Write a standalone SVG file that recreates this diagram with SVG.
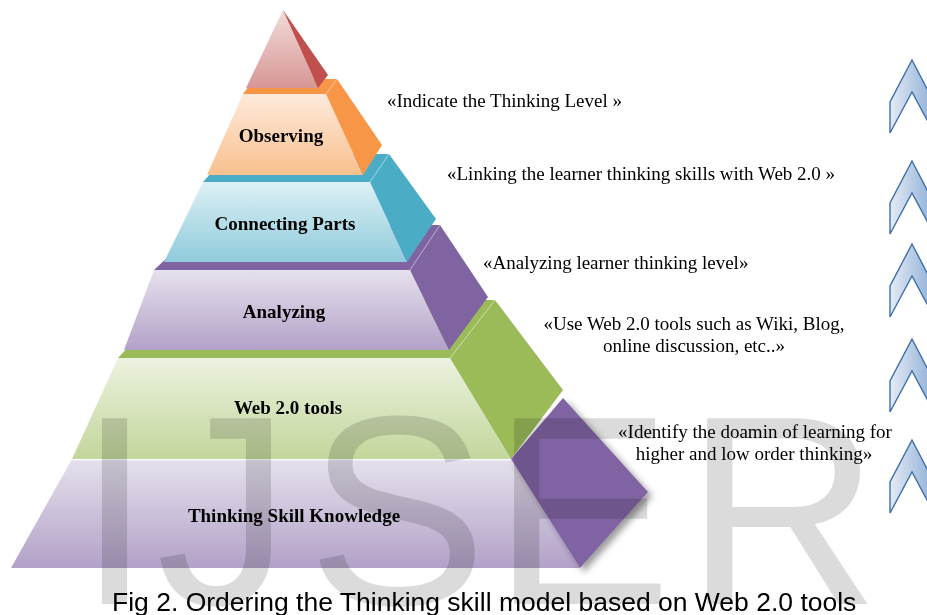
<svg xmlns="http://www.w3.org/2000/svg" xmlns:xlink="http://www.w3.org/1999/xlink" width="927" height="615" viewBox="0 0 927 615">
  <defs>
    <linearGradient id="gPink" x1="0" y1="0" x2="0" y2="1">
      <stop offset="0" stop-color="#f2dcdb"/>
      <stop offset="1" stop-color="#d79694"/>
    </linearGradient>
    <linearGradient id="gOrange" x1="0" y1="0" x2="0" y2="1">
      <stop offset="0" stop-color="#fdeadb"/>
      <stop offset="1" stop-color="#f9c08e"/>
    </linearGradient>
    <linearGradient id="gTeal" x1="0" y1="0" x2="0" y2="1">
      <stop offset="0" stop-color="#dcf0f5"/>
      <stop offset="1" stop-color="#90cbdb"/>
    </linearGradient>
    <linearGradient id="gPurple" x1="0" y1="0" x2="0" y2="1">
      <stop offset="0" stop-color="#e6e1ed"/>
      <stop offset="1" stop-color="#b2a1c8"/>
    </linearGradient>
    <linearGradient id="gGreen" x1="0" y1="0" x2="0" y2="1">
      <stop offset="0" stop-color="#ecf2e0"/>
      <stop offset="1" stop-color="#c3d69b"/>
    </linearGradient>
    <linearGradient id="gChevron" x1="0" y1="0" x2="1" y2="0">
      <stop offset="0" stop-color="#e4ebf5"/>
      <stop offset="1" stop-color="#8eaed6"/>
    </linearGradient>
    <filter id="shadow" x="-20%" y="-20%" width="150%" height="150%">
      <feDropShadow dx="4" dy="4" stdDeviation="3.5" flood-color="#000" flood-opacity="0.4"/>
    </filter>
    <path id="chevron" d="M0,0 L22,42 L22,73 L0,32 L-22,73 L-22,42 Z"/>
  </defs>
  <style>
    .lbl { font-family: "Liberation Serif", "Times New Roman", serif; font-size: 19px; font-weight: bold; fill: #000; text-anchor: middle; }
    .note { font-family: "Liberation Serif", "Times New Roman", serif; font-size: 19px; fill: #000; }
    .mid { text-anchor: middle; }
    .edge { stroke: #ffffff; stroke-opacity: 0.35; stroke-width: 1; fill: none; }
    .chev { fill: url(#gChevron); stroke: #3f6fa8; stroke-width: 1.4; stroke-linejoin: miter; }
    .cap { font-family: "Liberation Sans", Arial, sans-serif; font-size: 26.5px; fill: #000; }
    .mark { font-family: "Liberation Sans", Arial, sans-serif; font-size: 270px; fill: #9a9a9a; fill-opacity: 0.36; mix-blend-mode: multiply; }
  </style>

  <rect width="927" height="615" fill="#ffffff"/>

  <!-- Pyramid tiers, drawn from the base upwards -->
  <g id="tier-thinking-skill-knowledge">
    <polygon points="72,459 511,459 580,568 11,568" fill="url(#gPurple)"/>
    <line x1="72" y1="459.5" x2="511" y2="459.5" stroke="#ffffff" stroke-width="1.5"/>
    <text class="lbl" x="294" y="522">Thinking Skill Knowledge</text>
  </g>

  <g id="tier-web20-tools">
    <polygon points="118,358 450,358 495,300 172,300" fill="#9bbb59"/>
    <polygon points="118,358 450,358 511,459 72,459" fill="url(#gGreen)"/>
    <polygon points="450,358 495,300 563,390 511,459" fill="#9bbb59"/>
    <line class="edge" x1="450" y1="358" x2="495" y2="300"/>
    <text class="lbl" x="288" y="414">Web 2.0 tools</text>
  </g>

  <g id="tier-analyzing">
    <polygon points="154,270 410,270 440,225 202,225" fill="#8064a2"/>
    <polygon points="154,270 410,270 449,350 124,350" fill="url(#gPurple)"/>
    <polygon points="410,270 440,225 488,297 449,350" fill="#8064a2"/>
    <line class="edge" x1="410" y1="270" x2="440" y2="225"/>
    <text class="lbl" x="284" y="318">Analyzing</text>
  </g>

  <g id="tier-connecting-parts">
    <polygon points="203,182 370,182 389,154 228,154" fill="#4bacc6"/>
    <polygon points="203,182 370,182 407,262 164,262" fill="url(#gTeal)"/>
    <polygon points="370,182 389,154 436,219 407,262" fill="#4bacc6"/>
    <line class="edge" x1="370" y1="182" x2="389" y2="154"/>
    <text class="lbl" x="285" y="230">Connecting Parts</text>
  </g>

  <g id="tier-observing">
    <polygon points="243,94 326,94 337,79 254,79" fill="#f79646"/>
    <polygon points="243,94 326,94 363,175 207,175" fill="url(#gOrange)"/>
    <polygon points="326,94 337,79 382,145 363,175" fill="#f79646"/>
    <line class="edge" x1="326" y1="94" x2="337" y2="79"/>
    <text class="lbl" x="281" y="142">Observing</text>
  </g>

  <g id="tier-apex">
    <polygon points="283,10 246,88 318,88" fill="url(#gPink)"/>
    <polygon points="283,10 328,75 318,88" fill="#c0504d"/>
  </g>

  <g id="domain-diamond">
    <polygon points="563,398 648,492 580,568 511,459" fill="#8064a2" filter="url(#shadow)"/>
  </g>

  <!-- Watermark lettering -->
  <text class="mark" x="77 156 307 492 685" y="604">IJSER</text>

  <!-- Descriptions beside the tiers -->
  <g id="note-indicate">
    <text class="note" x="387" y="107">«Indicate the Thinking Level »</text>
  </g>
  <g id="note-linking">
    <text class="note" x="447" y="180">«Linking the learner thinking skills with Web 2.0 »</text>
  </g>
  <g id="note-analyzing">
    <text class="note" x="483" y="269">«Analyzing learner thinking level»</text>
  </g>
  <g id="note-use-tools">
    <text class="note mid" x="694" y="330">«Use Web 2.0 tools such as Wiki, Blog,</text>
    <text class="note mid" x="694" y="352">online discussion, etc..»</text>
  </g>
  <g id="note-identify">
    <text class="note mid" x="755" y="438">«Identify the doamin of learning for</text>
    <text class="note mid" x="754" y="460">higher and low order thinking»</text>
  </g>

  <!-- Upward chevrons on the right margin -->
  <g id="chevrons">
    <use href="#chevron" class="chev" x="912" y="60"/>
    <use href="#chevron" class="chev" x="912" y="161"/>
    <use href="#chevron" class="chev" x="912" y="244"/>
    <use href="#chevron" class="chev" x="912" y="339"/>
    <use href="#chevron" class="chev" x="912" y="440"/>
  </g>

  <g id="caption">
    <text class="cap" x="112" y="611">Fig 2. Ordering the Thinking skill model based on Web 2.0 tools</text>
  </g>
</svg>
